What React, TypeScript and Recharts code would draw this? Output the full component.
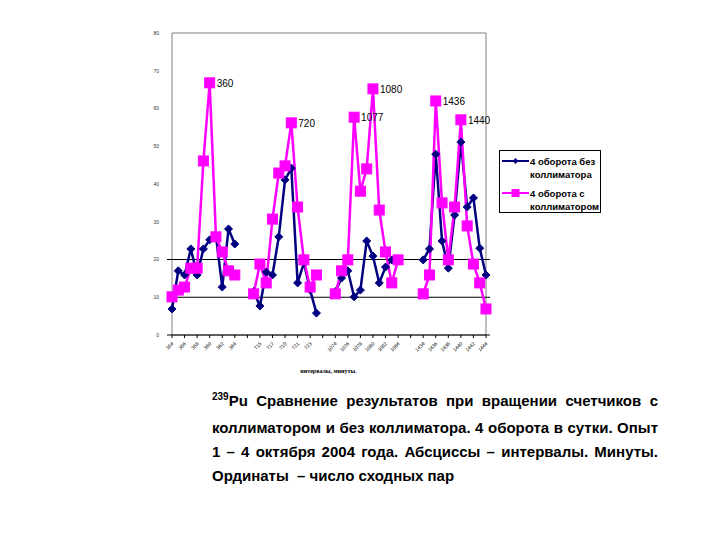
import { LineChart, Line, XAxis, YAxis, ReferenceLine, ReferenceArea, LabelList, Legend } from "recharts";

// интервалы (минуты); пустые строки - разрывы между сериями
const categories = [
    "354", "355", "356", "357", "358", "359", "360", "361", "362", "363", "364",
    "", "",
    "714", "715", "716", "717", "718", "719", "720", "721", "722", "723", "724",
    "", "",
    "1074", "1075", "1076", "1077", "1078", "1079", "1080", "1081", "1082", "1083", "1084",
    "", "", "",
    "1434", "1435", "1436", "1437", "1438", "1439", "1440", "1441", "1442", "1443", "1444",
];

// 4 оборота без коллиматора
const withoutCollimator = [
    6.9, 17.0, 15.9, 22.8, 15.9, 22.8, 25.2, 26.2, 12.7, 28.1, 24.1,
    null, null,
    11.5, 7.7, 16.7, 15.9, 26.0, 41.1, 44.2, 13.8, 19.1, 11.9, 5.8,
    null, null,
    11.5, 15.1, 17.0, 10.1, 11.9, 24.9, 20.9, 13.8, 18.0, 19.9, 20.0,
    null, null, null,
    19.9, 22.8, 47.9, 24.9, 17.7, 31.8, 51.1, 33.9, 36.3, 23.0, 15.9,
];

// 4 оборота с коллиматором
const withCollimator = [
    10.1, 11.9, 12.7, 17.7, 17.7, 46.1, 66.8, 26.0, 22.0, 17.0, 15.9,
    null, null,
    10.9, 18.8, 13.8, 30.7, 42.9, 44.8, 56.2, 33.9, 19.9, 12.7, 15.9,
    null, null,
    10.9, 17.0, 19.9, 57.7, 38.1, 44.0, 65.2, 33.1, 22.0, 13.8, 19.9,
    null, null, null,
    10.9, 15.9, 62.0, 35.0, 19.9, 33.9, 57.0, 28.9, 18.8, 13.8, 6.9,
];

// подписи пиков
const peakLabels: Record<number, string> = { 6: "360", 19: "720", 29: "1077", 32: "1080", 42: "1436", 46: "1440" };

const yTicks = [0, 10, 20, 30, 40, 50, 60, 70, 80];

const data = categories.map((cat, i) => ({
    cat,
    without: withoutCollimator[i],
    with: withCollimator[i],
    peak: peakLabels[i] || "",
}));

const NAVY = "#000080";
const PINK = "#FF00FF";

const Diamond = (props: any) => {
    const { cx, cy, index, value } = props;
    if (value == null || cx == null) return <g key={`dn-${index}`} />;
    const r = 4;
    return (
        <path
            key={`dn-${index}`}
            d={`M${cx},${cy - r} L${cx + r},${cy} L${cx},${cy + r} L${cx - r},${cy} Z`}
            fill={NAVY}
            stroke={NAVY}
        />
    );
};

const Square = (props: any) => {
    const { cx, cy, index, value } = props;
    if (value == null || cx == null) return <g key={`sq-${index}`} />;
    const r = 5;
    return <rect key={`sq-${index}`} x={cx - r} y={cy - r} width={r * 2} height={r * 2} fill={PINK} stroke={PINK} />;
};

const XTick = (props: any) => {
    const { x, y, payload } = props;
    return (
        <text x={x + 2} y={y + 4} transform={`rotate(-45 ${x + 2} ${y + 4})`} textAnchor="end" fontSize={5} fontFamily="Arial, Liberation Sans" fill="#000">
            {payload.value}
        </text>
    );
};

const PeakLabel = (props: any) => {
    const { x, y, value } = props;
    if (!value) return null;
    return (
        <text x={x + 7} y={y + 4} fontSize={10} fontFamily="Arial, Liberation Sans" fill="#000">
            {value}
        </text>
    );
};

const LegendBox = () => {
    const row = (color: string, marker: "d" | "s", l1: string, l2: string) => (
        <div style={{ display: "flex", alignItems: "flex-start", marginBottom: 6 }}>
            <svg width={27} height={12} style={{ flex: "none" }}>
                <line x1={0} y1={6} x2={27} y2={6} stroke={color} strokeWidth={2} />
                {marker === "d" ? (
                    <path d="M13.5,3 L16.5,6 L13.5,9 L10.5,6 Z" fill={color} />
                ) : (
                    <rect x={9.5} y={2} width={8} height={8} fill={color} />
                )}
            </svg>
            <div style={{ fontSize: 9.5, fontWeight: "bold", lineHeight: "13px", marginLeft: 1, whiteSpace: "nowrap" }}>
                {l1}
                <br />
                {l2}
            </div>
        </div>
    );
    return (
        <div
            style={{
                border: "1px solid #000",
                width: 102,
                height: 63,
                boxSizing: "border-box",
                padding: "4px 0 0 2px",
                fontFamily: "Arial, Liberation Sans",
                background: "#fff",
                overflow: "hidden",
            }}
        >
            {row(NAVY, "d", "4 оборота без", "коллиматора")}
            {row(PINK, "s", "4 оборота с", "коллиматором")}
        </div>
    );
};

const App = () => {
    return (
        <div style={{ position: "absolute", left: 0, top: 0, width: 720, height: 540, background: "#fff" }}>
            <LineChart
                width={720}
                height={382}
                data={data}
                margin={{ top: 33, right: 230, left: 147, bottom: 5 }}
            >
                <ReferenceArea y1={0} y2={80} fill="none" stroke="#808080" strokeWidth={1} />
                <ReferenceLine y={10} stroke="#000" strokeWidth={1} />
                <ReferenceLine y={20} stroke="#000" strokeWidth={1} />
                <XAxis
                    dataKey="cat"
                    interval={1}
                    height={42}
                    tick={<XTick />}
                    tickSize={3}
                    stroke="#000"
                    padding={{ left: 5, right: 4 }}
                    label={{
                        value: "интервалы, минуты.",
                        position: "insideBottom",
                        offset: 4,
                        fontSize: 6,
                        fontWeight: "bold",
                        fill: "#000",
                    }}
                />
                <YAxis
                    domain={[0, 80]}
                    ticks={yTicks}
                    width={20}
                    axisLine={false}
                    tickLine={false}
                    tick={{ fontSize: 5, fill: "#333", fontFamily: "Arial, Liberation Sans" }}
                />
                <Legend
                    layout="vertical"
                    align="center"
                    verticalAlign="middle"
                    content={() => <LegendBox />}
                    wrapperStyle={{ position: "absolute", left: 499, top: 150, width: 102, height: 63 }}
                />
                <Line
                    dataKey="without"
                    name="4 оборота без коллиматора"
                    stroke={NAVY}
                    strokeWidth={2.5}
                    dot={Diamond}
                    activeDot={false}
                    connectNulls={false}
                    isAnimationActive={false}
                />
                <Line
                    dataKey="with"
                    name="4 оборота с коллиматором"
                    stroke={PINK}
                    strokeWidth={2.5}
                    dot={Square}
                    activeDot={false}
                    connectNulls={false}
                    isAnimationActive={false}
                >
                    <LabelList dataKey="peak" content={<PeakLabel />} />
                </Line>
            </LineChart>
            <div
                style={{
                    position: "absolute",
                    left: 212,
                    top: 386,
                    width: 446,
                    fontFamily: "Arial, Liberation Sans",
                    fontWeight: "bold",
                    fontSize: 15,
                    lineHeight: "24px",
                    color: "#000",
                    whiteSpace: "nowrap",
                }}
            >
                <div style={{ textAlign: "justify", textAlignLast: "justify", whiteSpace: "normal", height: 30, lineHeight: "30px" }}>
                    <sup style={{ fontSize: 10, lineHeight: 0 }}>239</sup>Pu Сравнение результатов при вращении счетчиков с
                </div>
                <div style={{ textAlign: "justify", textAlignLast: "justify", whiteSpace: "normal" }}>коллиматором и без коллиматора. 4 оборота в сутки. Опыт</div>
                <div style={{ textAlign: "justify", textAlignLast: "justify", whiteSpace: "normal" }}>1 – 4 октября 2004 года. Абсциссы – интервалы. Минуты.</div>
                <div>Ординаты&nbsp; – число сходных пар</div>
            </div>
        </div>
    );
};

export default App;
